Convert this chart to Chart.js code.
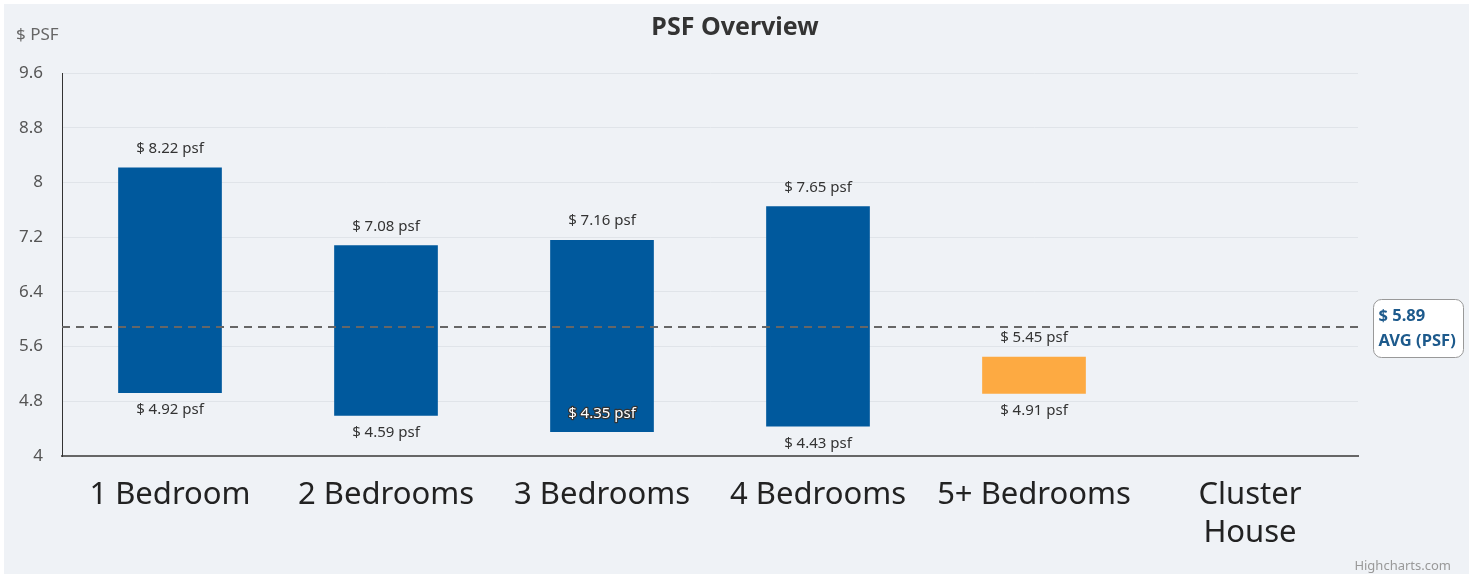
<!DOCTYPE html>
<html>
<head>
<meta charset="utf-8">
<script src="https://cdn.jsdelivr.net/npm/chart.js@4/dist/chart.umd.min.js"></script>
<style>
  html, body { margin: 0; padding: 0; background: #ffffff; }
  #wrap { width: 1473px; height: 576px; position: relative; }
</style>
</head>
<body>
<div id="wrap"><canvas id="c" width="1473" height="576"></canvas></div>
<script>
// ---- data ----
const categories = ["1 Bedroom", "2 Bedrooms", "3 Bedrooms", "4 Bedrooms", "5+ Bedrooms", ["Cluster", "House"]];
const lowPsf  = [4.92, 4.59, 4.35, 4.43, 4.91, null];
const highPsf = [8.22, 7.08, 7.16, 7.65, 5.45, null];
const avgPsf = 5.89;
const yTicks = [4, 4.8, 5.6, 6.4, 7.2, 8, 8.8, 9.6];
const titleText = "PSF Overview";
const yAxisTitle = "$ PSF";
const avgLabelLines = ["$ 5.89", "AVG (PSF)"];

// ---- styles ----
const BLUE = "#00599d";
const ORANGE = "#fdaa42";
const barColors = [BLUE, BLUE, BLUE, BLUE, ORANGE, BLUE];
const FONT = "'Noto Sans', 'Open Sans', sans-serif";

const ranges = lowPsf.map((lo, i) => (lo == null || highPsf[i] == null) ? null : [lo, highPsf[i]]);

const fmt = v => "$ " + v.toFixed(2) + " psf";

const bgPlugin = {
  id: "bg",
  beforeDraw(chart) {
    const ctx = chart.ctx;
    ctx.save();
    ctx.fillStyle = "#ffffff";
    ctx.fillRect(0, 0, chart.width, chart.height);
    ctx.fillStyle = "#eff2f6";
    ctx.fillRect(4, 4, chart.width - 8, chart.height - 6);
    ctx.restore();
  }
};

const decoPlugin = {
  id: "deco",
  afterDatasetsDraw(chart) {
    const ctx = chart.ctx;
    const ca = chart.chartArea;
    const y = chart.scales.y;
    const meta = chart.getDatasetMeta(0);
    ctx.save();
    // data labels
    ctx.font = "15px " + FONT;
    ctx.textAlign = "center";
    ctx.textBaseline = "middle";
    meta.data.forEach((bar, i) => {
      if (!ranges[i]) return;
      const [lo, hi] = ranges[i];
      const yTop = y.getPixelForValue(hi);
      const yBot = y.getPixelForValue(lo);
      ctx.fillStyle = "#333333";
      ctx.fillText(fmt(hi), bar.x, yTop - 19);
      let ly = yBot + 17;
      if (ly + 8 > ca.bottom) {
        ly = yBot - 18;
        ctx.lineWidth = 2.5;
        ctx.strokeStyle = "#333333";
        ctx.lineJoin = "round";
        ctx.strokeText(fmt(lo), bar.x, ly);
        ctx.fillStyle = "#ffffff";
        ctx.fillText(fmt(lo), bar.x, ly);
      } else {
        ctx.fillText(fmt(lo), bar.x, ly);
      }
    });
    // average line
    const ay = Math.round(y.getPixelForValue(avgPsf));
    ctx.beginPath();
    ctx.setLineDash([8, 6]);
    ctx.lineWidth = 2;
    ctx.strokeStyle = "#666666";
    ctx.moveTo(ca.left, ay);
    ctx.lineTo(ca.right, ay);
    ctx.stroke();
    ctx.setLineDash([]);
    // average label box
    const bx = 1373.5, by = ay - 27.5, bw = 90, bh = 58, r = 8;
    ctx.beginPath();
    ctx.moveTo(bx + r, by);
    ctx.lineTo(bx + bw - r, by);
    ctx.arcTo(bx + bw, by, bx + bw, by + r, r);
    ctx.lineTo(bx + bw, by + bh - r);
    ctx.arcTo(bx + bw, by + bh, bx + bw - r, by + bh, r);
    ctx.lineTo(bx + r, by + bh);
    ctx.arcTo(bx, by + bh, bx, by + bh - r, r);
    ctx.lineTo(bx, by + r);
    ctx.arcTo(bx, by, bx + r, by, r);
    ctx.closePath();
    ctx.fillStyle = "#ffffff";
    ctx.fill();
    ctx.lineWidth = 1;
    ctx.strokeStyle = "#999999";
    ctx.stroke();
    ctx.fillStyle = "#1d5a8c";
    ctx.font = "bold 16.5px " + FONT;
    ctx.textAlign = "left";
    ctx.fillText(avgLabelLines[0], bx + 5, by + 17);
    ctx.fillText(avgLabelLines[1], bx + 5, by + 42);
    // title & axis title
    ctx.textAlign = "center";
    ctx.fillStyle = "#333333";
    ctx.font = "bold 25px " + FONT;
    ctx.fillText(titleText, 735, 28);
    ctx.textAlign = "left";
    ctx.fillStyle = "#666666";
    ctx.font = "17px " + FONT;
    ctx.fillText(yAxisTitle, 16, 35);
    // credits
    ctx.textAlign = "right";
    ctx.fillStyle = "#999999";
    ctx.font = "13px " + FONT;
    ctx.fillText("Highcharts.com", 1451, 566);
    ctx.restore();
  }
};

new Chart(document.getElementById("c"), {
  type: "bar",
  data: {
    labels: categories,
    datasets: [{
      data: ranges,
      backgroundColor: barColors,
      borderWidth: 0,
      categoryPercentage: 1,
      barPercentage: 0.48
    }]
  },
  options: {
    responsive: false,
    animation: false,
    events: [],
    layout: { padding: { top: 73, right: 115, left: 0, bottom: 0 } },
    plugins: { legend: { display: false }, tooltip: { enabled: false }, title: { display: false } },
    scales: {
      x: {
        grid: { display: false, drawTicks: false },
        border: { display: true, color: "#666666", width: 2 },
        ticks: {
          color: "#222222",
          padding: 20,
          maxRotation: 0,
          autoSkip: false,
          font: { family: FONT, size: 31, lineHeight: 1.226 }
        },
        afterFit(s) { s.height = 120; }
      },
      y: {
        min: 4, max: 9.6,
        afterBuildTicks(s) { s.ticks = yTicks.map(v => ({ value: v })); },
        grid: { color: "#e0e4e9", drawTicks: false, lineWidth: 1 },
        border: { display: true, color: "#333333", width: 1 },
        ticks: {
          color: "#555555",
          padding: 19,
          font: { family: FONT, size: 17 },
          callback: v => String(Number(v.toFixed(1)))
        },
        afterFit(s) { s.width = 62; }
      }
    }
  },
  plugins: [bgPlugin, decoPlugin]
});
</script>
</body>
</html>
